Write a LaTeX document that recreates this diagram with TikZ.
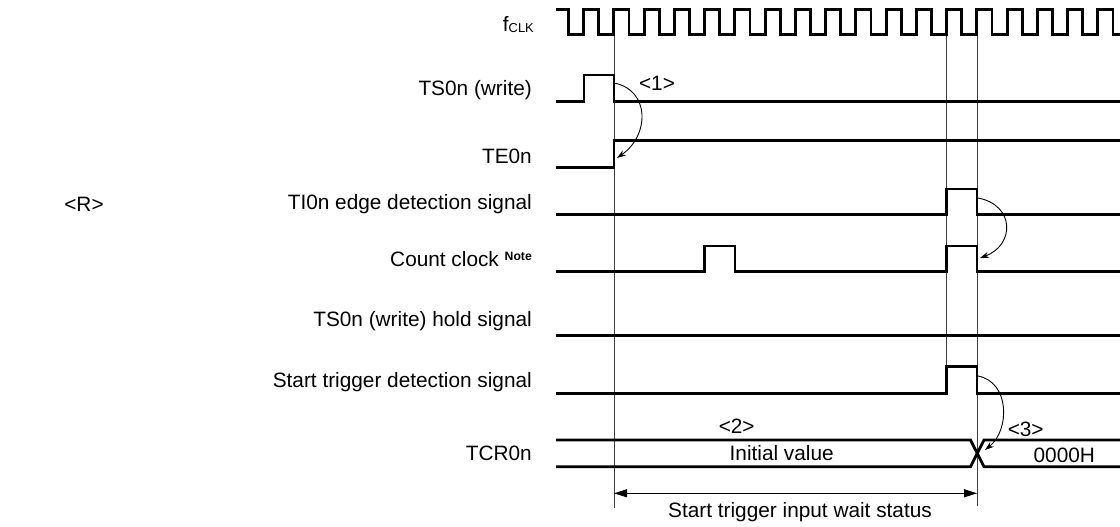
\documentclass[tikz,border=0pt]{standalone}
\usepackage{fontspec}
\setmainfont{Liberation Sans}
\usetikzlibrary{arrows.meta}

\begin{document}
\begin{tikzpicture}[
  x=1pt, y=-1pt,
  wave/.style={line width=2.8pt, line join=miter},
  guide/.style={line width=1pt, black!75},
  sig/.style={anchor=east, inner sep=0pt, font=\fontsize{20.8}{24}\selectfont},
  txt/.style={inner sep=0pt, font=\fontsize{20.8}{24}\selectfont},
  cause/.style={-{Stealth[length=9pt,width=6pt]}, line width=0.9pt},
  span/.style={{Triangle[length=13pt,width=8pt]}-{Triangle[length=13pt,width=8pt]}, line width=1pt}
]
\useasboundingbox (0,0) rectangle (1120,527);

% signal names
\node[sig] (clk) at (534,25) {f\raisebox{-1pt}{\fontsize{12.9}{14}\selectfont CLK}};
\node[sig] (ts) at (532,90) {TS0n (write)};
\node[sig] (te) at (532,156) {TE0n};
\node[sig] (ti) at (532,204) {TI0n edge detection signal};
\node[sig] (cc) at (532,259) {Count clock \raisebox{6pt}{\fontsize{12.2}{14}\selectfont\bfseries Note}};
\node[sig] (hold) at (532,321) {TS0n (write) hold signal};
\node[sig] (st) at (532,382) {Start trigger detection signal};
\node[sig] (tcr) at (532,453) {TCR0n};
\node[txt] (rmark) at (84,204) {<R>};

% timing guides
\draw[guide] (614,34.3) -- (614,508);
\draw[guide] (946.8,34.3) -- (946.8,393.3);
\draw[guide] (977,34.3) -- (977,506);

% waveforms
\draw[wave] (556,9.3) -- (568.5,9.3)
  \foreach \k in {0,...,17} { -- ++(0,25) -- ++(15.125,0) -- ++(0,-25) -- ++(15.125,0) }
  -- ++(0,25) -- (1120,34.3);
\draw[wave] (556,101.7) -- (584,101.7) -- (584,75) -- (614,75) -- (614,101.7) -- (1120,101.7);
\draw[wave] (556,167.3) -- (614,167.3) -- (614,140.7) -- (1120,140.7);
\draw[wave] (556,214.3) -- (946.8,214.3) -- (946.8,189) -- (977,189) -- (977,214.3) -- (1120,214.3);
\draw[wave] (556,271.7) -- (704.6,271.7) -- (704.6,246) -- (734.9,246) -- (734.9,271.7)
  -- (946.8,271.7) -- (946.8,246) -- (977,246) -- (977,271.7) -- (1120,271.7);
\draw[wave] (556,335.5) -- (1120,335.5);
\draw[wave] (556,393.3) -- (946.8,393.3) -- (946.8,366.7) -- (977,366.7) -- (977,393.3) -- (1120,393.3);
\draw[wave] (556,440) -- (970.5,440) -- (984,466.7) -- (1120,466.7);
\draw[wave] (556,466.7) -- (970.5,466.7) -- (984,440) -- (1120,440);

% bus values and marks
\node[txt] (m1) at (657,83) {<1>};
\node[txt] (m2) at (736.7,426.7) {<2>};
\node[txt] (m3) at (1025.7,429.3) {<3>};
\node[txt] (init) at (781.7,453.3) {Initial value};
\node[txt] (zero) at (1064.3,455) {0000H};
\node[txt] (wait) at (800,511.7) {Start trigger input wait status};

% cause arrows
\coordinate (ts-fall) at (614,83);
\coordinate (te-rise) at (617,158);
\coordinate (ti-fall) at (978,198);
\coordinate (cc-fall) at (980,258);
\coordinate (st-fall) at (978,376);
\coordinate (tcr-cross) at (985,450);
\coordinate (wait-l) at (614,493.3);
\coordinate (wait-r) at (977,493.3);
\draw[cause] (ts-fall) .. controls (650,90) and (650,135) .. (te-rise);
\draw[cause] (ti-fall) .. controls (1015,205) and (1015,245) .. (cc-fall);
\draw[cause] (st-fall) .. controls (1010,382) and (1010,430) .. (tcr-cross);
\draw[span] (wait-l) -- (wait-r);
\end{tikzpicture}
\end{document}
